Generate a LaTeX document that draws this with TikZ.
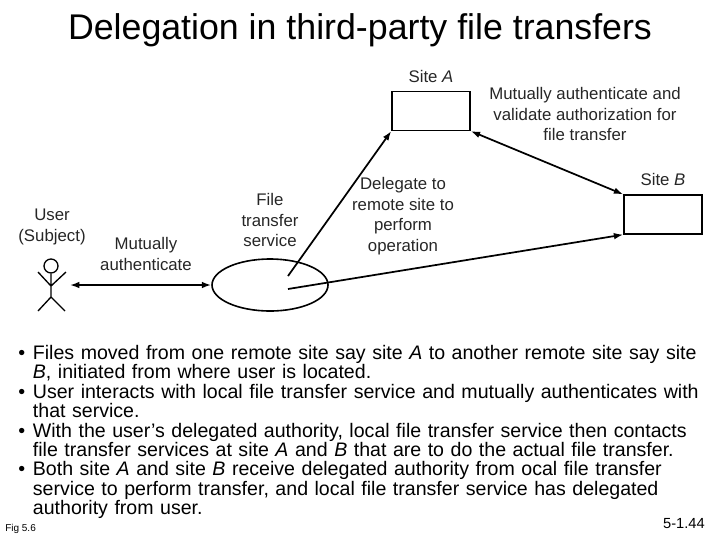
\documentclass[tikz,border=0pt]{standalone}
\usepackage{fontspec}
\setmainfont{Liberation Sans}
\usetikzlibrary{arrows.meta,positioning,shapes.geometric}
\tikzset{%
  sitebox/.style={draw,line width=1.2pt,minimum width=58.5pt,minimum height=29pt},
  difflabel/.style={align=center,font=\fontsize{12.6}{15.5}\selectfont,text=black!85,inner sep=0pt},
  flowarrow/.style={{Latex[length=7pt,width=5pt]}-{Latex[length=7pt,width=5pt]},line width=1.3pt},
  onearrow/.style={-{Latex[length=7pt,width=5pt]},line width=1.3pt},
  bulletitem/.style={anchor=north west,align=left,inner sep=0pt,font=\fontsize{14.68}{14.55}\selectfont}
}
\begin{document}
\begin{tikzpicture}[x=0.75pt,y=-0.75pt]
  \useasboundingbox (0,0) rectangle (720,540);
  \node[font=\fontsize{26.8}{30}\selectfont] (title) at (360,30) {Delegation in third-party file transfers};
  \node[sitebox] (sitea) at (431,111) {};
  \node[sitebox] (siteb) at (663,214.500) {};
  \node[draw,ellipse,line width=1.2pt,minimum width=87pt,minimum height=39pt,inner sep=0pt] (service) at (270,285) {};
  \coordinate (userhand) at (70,285);
  \coordinate (starta) at (288,276);
  \coordinate (startb) at (288,289);
  \node[difflabel] (labela) at (431,76) {Site \textit{A}};
  \node[difflabel] (labelb) at (663,179) {Site \textit{B}};
  \node[difflabel] (labeluser) at (52,227) {User\\(Subject)};
  \node[difflabel] (labelauth) at (146,254) {Mutually\\authenticate};
  \node[difflabel] (labelfile) at (270,220) {File\\transfer\\service};
  \node[difflabel] (labeldel) at (403,216) {Delegate to\\remote site to\\perform\\operation};
  \node[difflabel] (labelval) at (585,114) {Mutually authenticate and\\validate authorization for\\file transfer};
  % stick figure
  \node[draw,circle,line width=1pt,minimum size=10.500pt,inner sep=0pt] (head) at (51,266) {};
  \coordinate (neck) at (51,286);
  \coordinate (hip) at (51,297);
  \draw[line width=1pt] (head) -- (hip) (38,272) -- (neck) -- (66,272) (38,311) -- (hip) -- (65,311);
  \draw[flowarrow] (userhand) -- (service);
  \draw[onearrow] (starta) -- (sitea.south west);
  \draw[onearrow] (startb) -- (siteb.south west);
  \draw[flowarrow] (sitea.south east) -- (siteb.north west);
  \node[bulletitem,text width=530pt] (bullets) at (18,345) {%
    \makebox[11pt][l]{•}Files moved from one remote site say site \textit{A} to another remote site say site\\
    \hspace*{11pt}\textit{B}, initiated from where user is located.\\
    \makebox[11pt][l]{•}User interacts with local file transfer service and mutually authenticates with\\
    \hspace*{11pt}that service.\\
    \makebox[11pt][l]{•}With the user’s delegated authority, local file transfer service then contacts\\
    \hspace*{11pt}file transfer services at site \textit{A} and \textit{B} that are to do the actual file transfer.\\
    \makebox[11pt][l]{•}Both site \textit{A} and site \textit{B} receive delegated authority from ocal file transfer\\
    \hspace*{11pt}service to perform transfer, and local file transfer service has delegated\\
    \hspace*{11pt}authority from user.};
  \node[font=\fontsize{7.500}{9}\selectfont,anchor=west,inner sep=0pt] (figno) at (5,529) {Fig 5.6};
  \node[font=\fontsize{11}{13}\selectfont,anchor=east,inner sep=0pt] (pageno) at (705,524) {5-1.44};
\end{tikzpicture}
\end{document}
